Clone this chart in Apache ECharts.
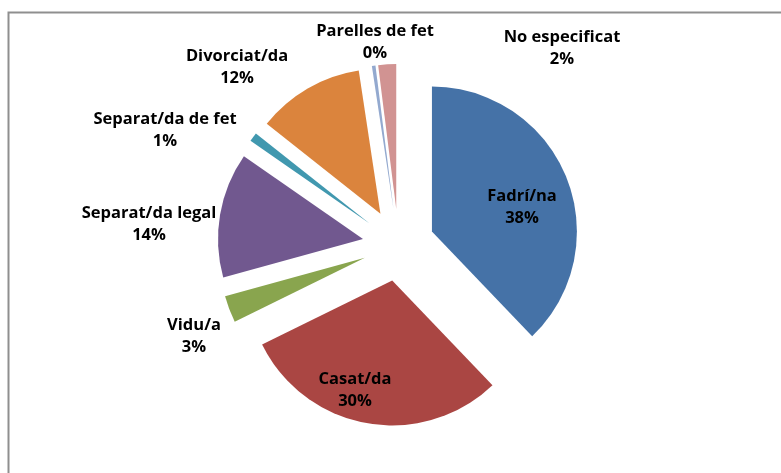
<!DOCTYPE html>
<html>
<head>
<meta charset="utf-8">
<script src="https://cdn.jsdelivr.net/npm/echarts@6/dist/echarts.min.js"></script>
<style>html,body{margin:0;padding:0;background:#fff;}#c{width:781px;height:473px;}</style>
</head>
<body>
<div id="c"></div>
<script>
const categories = ['Fadrí/na', 'Casat/da', 'Vidu/a', 'Separat/da legal', 'Separat/da de fet', 'Divorciat/da', 'Parelles de fet', 'No especificat'];
const values = [38, 30, 3, 14, 1, 12, 0.4, 2];

const colors = ['#4572A7', '#AA4643', '#89A54E', '#71588F', '#4198AF', '#DB843D', '#93A9CF', '#D19392'];
const labelPos = [[522, 207], [355, 390], [194, 336], [149, 224], [165, 130], [237, 67], [375, 42], [562, 48]];

const total = values.reduce((a, b) => a + b, 0);
const labelFont = {fontFamily: 'Open Sans', fontWeight: 'bold', fontSize: 16.5, lineHeight: 22, fill: '#000'};

const chart = echarts.init(document.getElementById('c'), null, {renderer: 'canvas'});
const graphics = [{
  type: 'rect', shape: {x: 8.5, y: 12.5, width: 800, height: 500},
  style: {fill: 'none', stroke: '#8f8f8f', lineWidth: 2}, silent: true, z: -1
}];
categories.forEach((n, i) => {
  graphics.push({
    type: 'text', x: labelPos[i][0], y: labelPos[i][1], z: 10, silent: true,
    style: Object.assign({
      text: n + '\n' + Math.round(values[i] / total * 100) + '%',
      textAlign: 'center', textVerticalAlign: 'middle', align: 'center', verticalAlign: 'middle'
    }, labelFont)
  });
});
chart.setOption({
  animation: false,
  graphic: graphics,
  series: [{
    type: 'pie',
    center: [398.5, 245],
    radius: 145,
    startAngle: 90,
    clockwise: true,
    selectedMode: 'multiple',
    selectedOffset: 36,
    avoidLabelOverlap: false,
    emphasis: {disabled: true},
    label: {show: false},
    labelLine: {show: false},
    data: categories.map((n, i) => ({
      name: n, value: values[i], selected: true,
      itemStyle: {color: colors[i]}
    }))
  }]
});
</script>
</body>
</html>
